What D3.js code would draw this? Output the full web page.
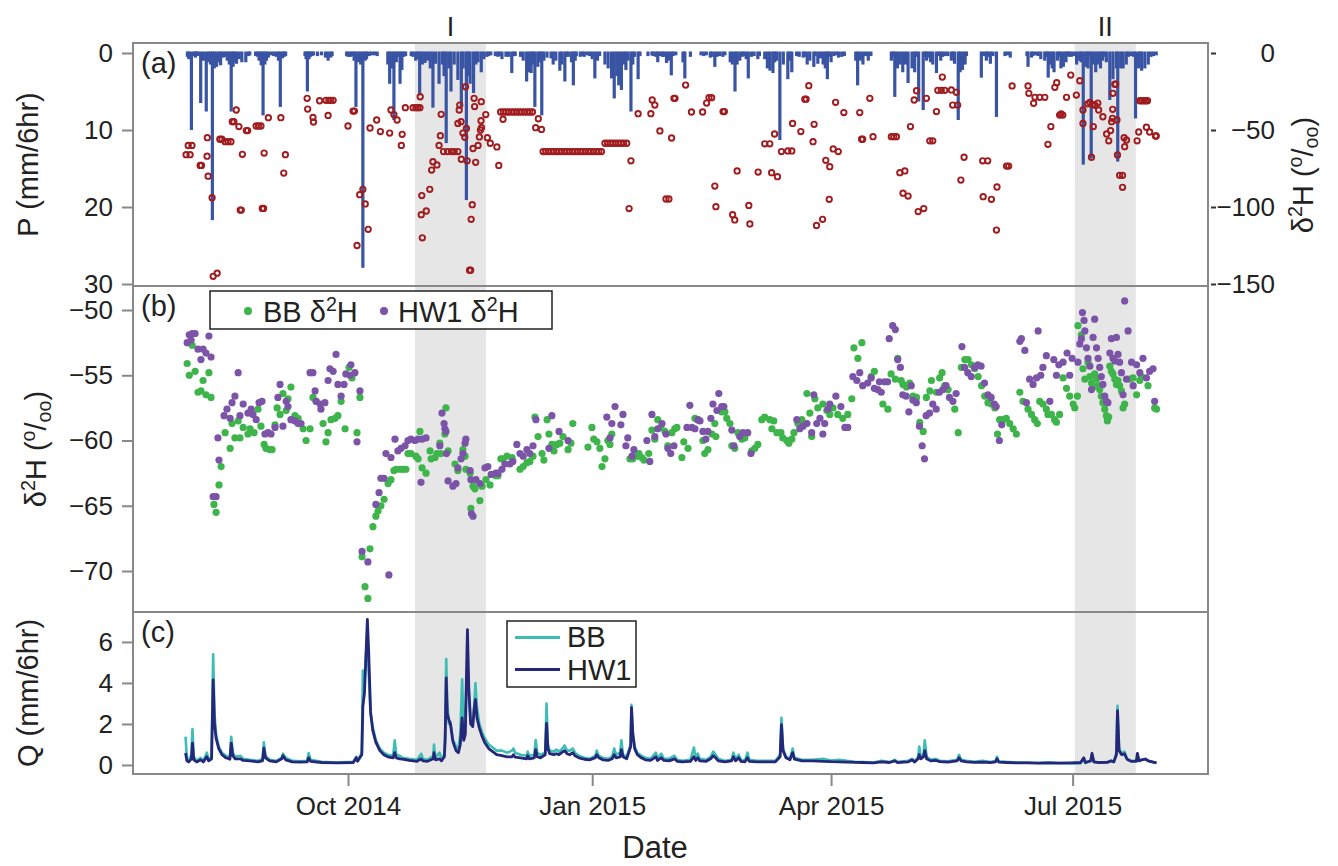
<!DOCTYPE html>
<html><head><meta charset="utf-8">
<script src="https://cdn.jsdelivr.net/npm/d3@7"></script>
<style>
body{margin:0;background:#fff}
svg{display:block}
text{font-family:"Liberation Sans",Arial,sans-serif;fill:#222;white-space:pre}
</style>
</head><body>
<svg id="c" width="1338" height="866"></svg>
<script>
// ---------------- DATA (day = days since 2014-07-01) ----------------
const xTickDates = ["2014-10-01","2015-01-01","2015-04-01","2015-07-01"];
const pTicks = [0,10,20,30];
const pIsoTicks = [0,-50,-100,-150];
const dTicks = [-50,-55,-60,-65,-70];
const qTicks = [0,2,4,6];
const periods = [{label:"I", start:117.2, end:144.0},{label:"II", start:365.8, end:388.8}];

// precipitation, 6 h totals [day, mm]
const precip = [[31.5,0.5],[32,0.8],[33,10],[34.5,0.6],[35.5,0.4],[36.5,6.5],[37.5,1.0],[38.6,7.6],[39.5,1.2],[40.2,1.5],[40.9,21.7],[41.6,2.0],[42.5,1.8],[43.5,1.2],[44,1.6],[45,0.6],[46.5,1.0],[47.3,1.5],[48,7.6],[48.7,1.8],[49.3,1.2],[50,1.4],[51,0.8],[52,1.2],[53.5,1.2],[58.5,1.0],[59.3,1.6],[60,8.1],[60.7,1.5],[61.3,1.0],[62,0.6],[65.8,1.0],[66.5,7],[67.3,0.7],[68,0.5],[76.2,0.8],[76.7,5],[77.3,0.8],[78.5,0.4],[80.5,0.4],[83.5,0.6],[84.5,1.0],[85.5,0.6],[92,0.5],[94.3,1.0],[95,7],[96,1.2],[96.8,1.5],[97.6,27.9],[98.5,1.0],[99,0.8],[102,0.3],[103,0.4],[107,1.5],[107.7,4],[108.5,2.0],[109.3,8.7],[110.2,1.2],[111.6,4],[112.3,2.2],[116.5,0.5],[117.5,1.0],[118.3,0.8],[119,5.5],[120,1.5],[121,1.3],[122,1.0],[123,2.0],[124,7.1],[125,1.4],[126.3,4],[127.5,1.5],[128.2,3],[129,11.7],[130,2],[130.8,5],[132,1.5],[133.4,3.5],[134.7,6.9],[135.4,2],[136.6,19.1],[137.2,3],[138,4],[139.3,5.2],[140.2,1.5],[141,1.2],[142.2,2.5],[143.2,0.8],[144.3,0.5],
[150,0.8],[151.5,0.5],[153.7,2.6],[155,0.4],[157,0.5],[158,1.0],[159.3,3.7],[160.2,2.5],[161,2.6],[161.8,1.5],[162.4,7],[163.5,1.8],[164.3,1.2],[165,8.1],[165.8,1.0],[167,0.6],[168.5,0.7],[169.3,1.5],[170.3,1.0],[171.8,2.3],[172.6,1.5],[173.7,3.7],[175,0.5],[176.2,1.2],[176.9,4.2],[177.6,1.0],[179.5,0.5],[181,0.5],[184,0.8],[185,3.3],[186,1.0],[188.8,1.5],[190,2.0],[191.3,3.3],[192.3,5.9],[193.3,3.0],[194,4.2],[195,4.8],[196,1.5],[196.7,2.2],[197.5,1.0],[198.6,7.6],[199.3,1.5],[201.3,3.4],[206.5,0.3],[208,0.5],[208.7,1.2],[209.5,0.4],[210.5,0.5],[212,1.3],[212.9,1.0],[213.8,2.9],[218.2,1.2],[218.9,3.3],[221,0.5],[225,0.3],[227,0.3],[228.5,0.6],[229.2,0.5],[230.2,1.8],[233.2,0.5],[236,1.2],[236.8,1.5],[237.8,5],[238.6,1.5],[239.6,1.0],[242,0.8],[242.8,3.3],[246.4,0.8],[249,0.8],[250,2.0],[251,2.3],[252.1,2.6],[252.8,1.2],[253.5,1.0],[254.7,11.3],[256,1.5],[257.7,3.4],[258.5,1.0],[259.2,2.5],[262,0.5],[263.5,0.6],[265,1.5],[266,1.0],[267.5,1.8],[269,1.4],[270,0.7],[271,1.5],[271.8,2.0],[272.6,3.4],[274,1.2],[276.8,0.6],[283.3,1.0],[284,4.2],[285,1.0],[286,1.5],[288,1.0],
[296.7,1.0],[298,5.7],[299,2.0],[300,1.5],[301,2.5],[302,1.5],[303,3.9],[304.5,2.0],[305.5,2.5],[307,6.3],[308.7,7.4],[310,1.0],[310.8,0.6],[311.5,1.2],[312.3,1.5],[313.7,2.6],[315.3,1.0],[319.3,1.0],[320.5,1.4],[321.9,8.7],[322.6,2.5],[323.5,2.2],[324.5,1.5],[330.6,3.2],[332.5,1.0],[334,1.4],[336.3,8.3],[339.5,0.4],[341.5,0.6],[348.2,1.8],[349.5,0.6],[353,0.8],[354.5,1.0],[355.8,3.2],[356.5,1.5],[357.3,2.0],[358,2.5],[359.3,1.0],[360.6,2.0],[361.5,1.8],[362.5,1.2],[363.6,0.5],[366.5,1.5],[367.5,1.0],[368.2,1.2],[369,14.5],[370,1.8],[370.8,2.0],[372,13.7],[372.8,1.5],[373.7,2.5],[374.6,1.5],[375.5,2.0],[376.3,1.0],[377.7,1.2],[379,6.1],[380.2,3.4],[381.5,2.0],[382,14.1],[383.1,2.0],[384,2.0],[385.2,1.5],[388.7,8.5],[389.8,2.0],[391,2.3],[392.2,2.0],[393.5,1.5],[396.5,0.3],
[34,0.4],[35,0.3],[45.5,0.5],[54.5,0.4],[55,0.3],[57.2,0.4],[58,0.5],[63,0.3],[64,0.4],[65,0.5],[68.5,0.4],[75.8,0.4],[77.8,0.5],[79,0.3],[82,0.3],[86,0.4],[91.5,0.4],[93,0.5],[93.7,0.4],[100,0.4],[101,0.3],[110.8,0.5],[113,0.5],[113.7,0.4],[115.8,0.4],[145,0.4],[145.8,0.3],[147.5,0.4],[148.5,0.5],[149,0.4],[152.5,0.5],[154.5,0.4],[174.5,0.5],[178,0.4],[180.3,0.4],[182,0.3],[183,0.4],[186.8,0.4],[200,0.5],[202,0.4],[205,0.4],[207,0.4],[211,0.5],[214.5,0.4],[215.5,0.3],[226,0.4],[231,0.5],[232,0.4],[234,0.3],[240.5,0.5],[241,0.4],[244,0.5],[245,0.4],[247,0.4],[261,0.4],[264,0.5],[268,0.4],[273,0.5],[275,0.4],[276,0.3],[278,0.5],[279,0.4],[287,0.4],[289,0.4],[297.5,0.5],[306,0.5],[309.5,0.5],[314.5,0.4],[316,0.5],[317,0.4],[318,0.4],[320,0.5],[325,0.4],[331.5,0.4],[333,0.5],[335,0.4],[340.5,0.3],[347.8,0.4],[350,0.4],[351,0.3],[352,0.4],[355,0.5],[359.8,0.5],[363,0.4],[364.5,0.5],[365.5,0.4],[371,0.5],[377,0.5],[386,0.5],[387,0.4],[388,0.5],[390.5,0.5],[394.5,0.5],[395.5,0.4]];

// precipitation delta2H [day, permil]
const precipIso = [[31,-66],[31.8,-60],[32.5,-66],[33.2,-60],[36.3,-73],[36.8,-73],[38.9,-67],[39,-55],[39.3,-80],[40.8,-94],[41.2,-145],[42.7,-143],[43.7,-56],[44.5,-56],[45.7,-57.6],[46.8,-57.6],[47.9,-57.6],[48.4,-44.6],[49,-44.6],[49.9,-37],[50.9,-47.8],[51.4,-102],[51.8,-102],[52.2,-65.8],[53.7,-50.4],[54.2,-50.4],[57.4,-47.4],[58.3,-47.4],[59.2,-47.4],[59.7,-100.9],[60.2,-100.9],[60.4,-65],[62,-42],[66.7,-42],[67.8,-78],[68.4,-66],[76.6,-29.4],[76.8,-36.4],[78.8,-41.8],[79,-44.8],[81.3,-31],[83.7,-30.7],[84.5,-40.5],[84.8,-30.7],[85.5,-30.7],[86.4,-30.7],[92,-47.4],[93.9,-37.7],[94.4,-37.7],[95.4,-125],[96.4,-92],[97.6,-88.5],[98.5,-98],[99.6,-114.5],[100.3,-48.7],[102.8,-43.5],[104.2,-51],[107.7,-52],[108.2,-37],[109.3,-40],[110.5,-43.5],[112.1,-60],[112.4,-52.8],[113.6,-35.5],[116.5,-35.5],[117.6,-35.5],[118.3,-35.5],[119.1,-35.5],[119.2,-28.4],[119.8,-92.6],[119.6,-105],[120,-120],[121.5,-102.6],[122.8,-88.5],[123.5,-76],[124,-70.6],[125.5,-72.7],[126.3,-60],[126.8,-53.7],[127.1,-39.8],[128,-64],[129.5,-64],[131,-64],[132,-64],[133.4,-64],[133.4,-45.7],[133.9,-37],[134.1,-33.8],[134.6,-44.6],[135.3,-52],[136,-54.7],[136.3,-21.9],[134.7,-69],[136.9,-70],[136.6,-49],[137.8,-141],[138.2,-141],[138.4,-108],[138.8,-98.5],[139.1,-62],[139.5,-29.4],[139.7,-34.8],[140.1,-71],[141,-60],[141.5,-54.5],[141.9,-50],[142.3,-48.5],[142.1,-44],[142.2,-31.6],[143.9,-40],[144.5,-55],[145.6,-58.6],[148.1,-61],[148.8,-73],
[149.5,-38.3],[150.5,-38.3],[151.5,-38.3],[152.5,-38.3],[153.5,-38.3],[154.5,-38.3],[155.5,-38.3],[156.5,-38.3],[157.5,-38.3],[158.5,-38.3],[159.5,-38.3],[160.5,-38.3],[161.5,-38.3],[150.4,-43],[162.7,-48.5],[163.7,-42.7],[164.9,-49.6],
[165.5,-64],[166.5,-64],[167.5,-64],[168.5,-64],[169.5,-64],[170.5,-64],[171.5,-64],[172.5,-64],[173.5,-64],[174.5,-64],[175.5,-64],[176.5,-64],[177.5,-64],[178.5,-64],[179.5,-64],[180.5,-64],[181.5,-64],[182.5,-64],[183.5,-64],[184.5,-64],[185.5,-64],[186.5,-64],[187.5,-64],
[188.8,-58.6],[189.8,-58.6],[190.8,-58.6],[191.8,-58.6],[192.8,-58.6],[193.8,-58.6],[194.8,-58.6],[195.8,-58.6],[197,-58.6],
[197.9,-101],[198.6,-70],[201.3,-39.4],[206.1,-39.4],[206.6,-30.5],[207.6,-33.8],[209.5,-50.6],[211.8,-94.8],[212.9,-94.8],[213.9,-55.2],[214.8,-29.4],[215.2,-29.4],[219.2,-20.8],[221.4,-38.3],[225.6,-38.3],[227.1,-32.5],[228,-29],[229,-29],[230.2,-86.4],[230.6,-99.8],[233.3,-38],[233.8,-38],[236.9,-105],[237.7,-108.4],[238.6,-76.6],[243,-99],[243.4,-111],[246.5,-77.3],[249,-59],[250.9,-59],[251.6,-77.7],[253.8,-80.3],[252.7,-52.6],[255.3,-64],[257.7,-63.6],[259.2,-63.6],[259.5,-45.7],[262.6,-51],[264.1,-30],[264.6,-30],[265.6,-21.2],[267.2,-57.6],[267.6,-46.3],[268.5,-112],[270.8,-108],[272,-69.7],[273.5,-73.8],[273.3,-95],[274.8,-62.3],[276.7,-64],[275.7,-32],[278.8,-38.7],[284.8,-38.7],[285.5,-56],[285.9,-56],[288.6,-29.4],[289.8,-54.3],[296.7,-54.3],[297.6,-54.3],[298.6,-54.3],[299.9,-77.7],[301.8,-76.6],[301.1,-91],[303,-92.9],[303.9,-47.8],[305.3,-30.5],[306.2,-24.5],[306.8,-103],[308.9,-101],[309.9,-29.4],[311.2,-57],[312.3,-57],[313.7,-38],[314.2,-24.2],[315.5,-24.2],[316.8,-24.2],[315.9,-15.6],[319.3,-24],[319.8,-33.8],[321.7,-33.8],[321.2,-25.5],[322.9,-82.5],[324.1,-67.7],[331.3,-93.3],[334.4,-95],[331.1,-70],[333,-70],[336.5,-87],[336.3,-115],[340.1,-73.4],[340.9,-73.4],[342.2,-21.4],[348.2,-21.4],[348.5,-26.2],[350.3,-32.7],[350.8,-28.8],[352.6,-28.8],[354.5,-28.8],[355.7,-59.3],[356.8,-47.8],[358.3,-22.3],[359,-19.3],[360.1,-40.3],[360.7,-39.5],[361.3,-40.3],[362.7,-28.8],[364.3,-14.3],[366.4,-27.3],[367.7,-18],[368.9,-37],[368.9,-45.7],[370.7,-33],[371.5,-32],[372.6,-33.5],[373.5,-34],[374.5,-32.5],[372.1,-67.7],[372.8,-47.8],[374.8,-37],[376.4,-41.4],[377.8,-52.6],[378.6,-57],[379.3,-50.4],[379.7,-44.6],[380,-42.4],[380.1,-36.6],[380.2,-26.2],[380.9,-20.3],[381.2,-20.3],[381.7,-43.5],[381.9,-66.2],[382.7,-79.4],[383.8,-79.4],[383.8,-87.2],[384.4,-55],[385.3,-56.5],[384.6,-60.8],[389.3,-57],[389.9,-51.3],[390.3,-31],[391,-31],[391.8,-31],[392.5,-31],[393.2,-31],[392.8,-48.2],[394,-51.3],[396.2,-53.9],[396.5,-53.9]];

// stream water delta2H, BB [day, permil]
const bbIso = [[31.4,-54.1],[32.2,-55],[34.4,-54.7],[33.3,-52.7],[35.5,-56.3],[36.6,-56.2],[38.5,-56.5],[40.4,-56.7],[37.4,-55.4],[39.6,-54.8],[41.5,-64.9],[42.3,-65.5],[43.4,-63.4],[44.2,-62],[45.7,-59.4],[47.6,-60.6],[48.3,-58.7],[49.4,-59.8],[51.3,-59.8],[50.6,-58.5],[52.5,-59],[54.3,-59.5],[55.1,-59.1],[56.6,-59.4],[58.1,-57.6],[59.2,-58.9],[60.4,-60.3],[61.1,-60.6],[62.6,-60.7],[63.4,-60.7],[64.5,-58.8],[65.3,-57.5],[66.4,-58],[67.5,-56.4],[68.7,-57.7],[69.4,-56.8],[70.5,-55.9],[72,-58.1],[73.2,-58.3],[75.1,-59.1],[76.2,-60],[77.7,-59.1],[78.8,-56.7],[80,-57],[82.6,-58.7],[83.7,-60.1],[84.5,-59.4],[85.6,-58.4],[87.1,-58.3],[88.2,-58.1],[89.4,-57],[90.9,-59.1],[92.4,-54.4],[93.5,-55.2],[95.4,-59.4],[96.5,-56.7],[97.3,-68.9],[98.4,-71.2],[99.5,-72.1],[100.3,-68.3],[101.4,-66.6],[102.5,-65.8],[103.3,-65.4],[104.4,-65],[105.6,-64.5],[107.1,-63.3],[108.2,-63],[109.3,-62.3],[110.1,-62.2],[111.6,-62.2],[112.7,-62.2],[113.8,-62.2],[114.6,-61],[115.7,-61],[117.6,-61.2],[118.4,-61.4],[119.1,-59.3],[119.9,-62.1],[121.4,-62.5],[122.9,-60.8],[123.3,-61.4],[124.8,-61.3],[125.5,-61],[126.6,-60.2],[127,-61],[128.5,-59.5],[128.9,-57.5],[129.7,-60.8],[132.3,-61.8],[133.4,-62.3],[135.3,-60.7],[136.1,-61.2],[136.4,-62.2],[138,-62.5],[139.1,-63.5],[139.8,-63.7],[141.7,-64.6],[142.5,-63.5],[144,-63],[145.5,-63.4],[147.7,-62.7],[149.6,-61.4],[138.3,-65.2],
[148.5,-62.7],[150.4,-61.4],[151.9,-61.2],[153.8,-61.3],[156.8,-62.2],[158,-62],[159.4,-61.7],[160.5,-61.6],[161.7,-61.2],[162.4,-58.2],[163.6,-59.7],[165.1,-61],[165.8,-61.5],[167,-58.4],[167.7,-59.5],[168.8,-60.3],[169.6,-60.8],[170.7,-60.3],[171.8,-60.2],[173,-59.7],[174.9,-60.7],[176,-60.2],[176.7,-58.7],[182.4,-60.5],[183.9,-59],[184.6,-59.9],[185.8,-60.1],[186.9,-60.6],[187.7,-62],[188.8,-61.4],[189.9,-60],[190.7,-60.3],[191.4,-59.5],[198.2,-61.4],[199.3,-61.4],[200.8,-61.2],[201.6,-61],[202.7,-61.3],[203.5,-61.5],[205.3,-61],[206.5,-59.2],[207.6,-59.9],[208.7,-58.4],[209.9,-59],[211.4,-59.3],[212.5,-60.4],[214,-59.4],[215.1,-59.1],[215.9,-59],[217.8,-61.3],[218.5,-60.1],[220.1,-60.6],[222.7,-58.3],[223.8,-58.4],[225.7,-60],[226.4,-61],[227.6,-60.7],[229.1,-59.5],[230.2,-58.7],[230.6,-59.7],[232.8,-57.8],[234,-57.8],[234.7,-58.3],[235.9,-58.7],[236.6,-60.4],[237.7,-60.6],[238.9,-59.4],[240.4,-59.9],[241.5,-59.8],[244.1,-60.8],[245.3,-60.6],[246.4,-60.3],[247.9,-58.4],[249,-58.2],[250.9,-58.4],[252.4,-58.5],[251.7,-59.1],[253.6,-59.4],[255.1,-59.4],[255.8,-59.8],[257.3,-60],[258.1,-60.2],[259.2,-59.9],[260,-59.4],[261.5,-58.7],[263,-58.4],[264.9,-56.4],[266,-57.9],[266.7,-59.7],[267.9,-56.8],[269,-57.5],[270.9,-57.2],[272.4,-57.7],[273.5,-58],[274.7,-57.5],[276.5,-58],[278.4,-58.3],[280.3,-58],[281.8,-56.8],[282.6,-52.9],[284.1,-53.7],[285.6,-52.5],
[289.1,-55.1],[290.3,-54.7],[293.5,-57.2],[295.4,-57.6],[296.6,-54.9],[298.2,-55.3],[299.1,-53.7],[300.4,-55.4],[301.1,-55.7],[302.4,-55.9],[303.6,-55.6],[304.9,-56.6],[306.2,-56.7],[307.4,-58.6],[308.7,-59.3],[309.9,-56.7],[311.2,-56.2],[311.8,-55.4],[313.7,-56.3],[314.9,-55.2],[315.8,-54.8],[316.8,-55.8],[318.1,-56.1],[320.6,-57.6],[321.9,-59.4],[323.1,-54.4],[324.4,-53.8],[325.6,-53.8],[326.9,-54.2],[328.1,-54.5],[329.4,-55.1],[330.7,-55.8],[331.9,-56.6],[333.1,-57.1],[334.4,-57.2],[335.7,-57.5],[336.7,-59.5],[337.5,-58.4],[338.8,-58.4],[340,-58.3],[341.3,-58.7],[342.6,-59.1],[343.8,-59.5],[345.1,-56.3],[346.3,-57],[348.2,-57.6],[349.5,-58],[350.7,-58.4],[351.7,-58.7],[352.6,-57],[353.8,-57.2],[355.1,-57.6],[355.7,-58],[357,-58],[358.2,-58.4],[358.9,-58.6],[360.1,-58],[361.4,-55.2],[362.7,-56],[363.9,-56.6],[365.2,-57.2],[365.8,-57.5],[366.8,-56.6],[367,-51.2],[368.3,-51.9],[368.9,-54.5],[369.6,-55.3],[370.8,-54],[371.5,-55.1],[372.1,-55.6],[372.7,-55.9],[373.3,-54.9],[374,-55.3],[374.6,-55.8],[375.2,-56.1],[375.8,-56.6],[376.4,-57.1],[377.1,-57.6],[377.7,-58.1],[378.1,-58.5],[378.6,-58.2],[379,-54.3],[379.6,-54.7],[380.2,-54.9],[380.9,-55.3],[381.5,-55.7],[382.1,-55.4],[382.7,-55.8],[383.4,-56.2],[384,-57.5],[384.6,-57.2],[386.5,-55.3],[387.8,-55.2],[389.1,-56.5],[390.3,-55.4],[390.9,-55.1],[393.4,-55.8],[395.9,-57.5],[396.6,-57.6]];

// stream water delta2H, HW1 [day, permil]
const hwIso = [[31.4,-52.5],[32.2,-51.9],[33.3,-51.8],[34.4,-51.8],[32.9,-52.3],[35.5,-53],[37.4,-53],[36.6,-53.8],[38.5,-53.3],[39.6,-52],[40.4,-53.6],[43,-59.8],[43.4,-61.5],[41.2,-64.3],[42.3,-64.3],[45.3,-58.1],[46.4,-57.6],[47.6,-58.3],[48.3,-57.1],[49.4,-56.6],[50.6,-54.8],[51.3,-58.1],[52.5,-57.2],[54.3,-57.9],[55.5,-57.6],[56.2,-58],[57.4,-58.4],[58.5,-57.1],[59.6,-57],[60.7,-59.5],[61.9,-59.4],[63,-59.5],[64.5,-59],[65.6,-56.7],[66.4,-55.7],[67.5,-58.9],[68.7,-57],[69.4,-57.4],[70.5,-58.4],[72,-58.5],[73.2,-58.7],[74.3,-58.7],[77.7,-54.8],[78.8,-54.8],[79.6,-56.2],[80,-57],[81.5,-57.2],[81.8,-57.6],[83.3,-57.1],[84.5,-55.4],[85.2,-54.5],[86.4,-54.7],[87.5,-53.4],[88.2,-55.7],[89.4,-56.6],[90.5,-55.7],[91.2,-54.9],[92.8,-55],[93.1,-54.2],[94.6,-54.8],[95.4,-60.1],[96.5,-56.2],[97.3,-68.5],[99.5,-69.3],[102.5,-64.9],[103.7,-64],[104.4,-62.9],[105.6,-62.9],[107.4,-70.3],[106.3,-61],[108.2,-61.3],[109.7,-59.9],[110.8,-60.8],[112,-60.6],[113.5,-60.4],[114.6,-60],[115.7,-59.9],[117.2,-60],[118.4,-59.9],[119.9,-59.9],[121.4,-59.8],[119.5,-63.2],[126.6,-60.4],[127.4,-57.9],[128.2,-58.7],[128.5,-59.1],[128.9,-59.3],[129.1,-61],[129.7,-63.1],[131.5,-63.5],[132.7,-63.3],[133.4,-62.1],[134.6,-61.4],[135.3,-61],[136.1,-60.2],[136.4,-59.9],[138,-62.3],[138.3,-63],[138.5,-65.6],[139.1,-65.8],[140.2,-63],[141.7,-63.3],[143.6,-62.1],[144.7,-62],[145.9,-62.6],[147.7,-62.5],
[148.5,-62.5],[150,-62.2],[151.1,-61.8],[153,-61.8],[154.1,-61.6],[155.6,-60.3],[156.8,-61],[158,-61.2],[159.4,-60.7],[160.5,-61],[161.7,-60.4],[162.8,-58.4],[167.7,-60.6],[168.8,-58.1],[171.5,-59.3],[174.9,-60],[189.5,-58.2],[190.7,-59.8],[191.4,-58.7],[192.6,-57.4],[194.8,-58.8],[195.6,-58],[196.7,-60.4],[197.4,-59.8],[199,-61.2],[199.7,-60.7],[204.6,-60],[205.7,-61.6],[206.5,-58],[207.6,-59.7],[208.7,-59.1],[210.3,-58.7],[211.8,-59.5],[212.5,-60.6],[213.6,-61],[214.8,-60.4],[219.7,-59],[220.8,-57.3],[221.6,-59],[222.7,-59.1],[223.8,-58.4],[224.6,-58.5],[225.7,-59.3],[226.8,-59.9],[227.6,-59.3],[228.7,-58.3],[229.5,-57.2],[231,-57.7],[231.7,-56.4],[232.8,-57.4],[233.6,-57.4],[236.6,-59.2],[237.4,-60.4],[239.6,-59.7],[240.8,-59.4],[242.6,-59.4],[243.8,-61],[261.1,-58.4],[262.2,-59.1],[263.4,-58.9],[264.9,-58.7],[266.7,-59.4],[268.6,-58.7],[269.8,-58.3],[270.9,-59.5],[271.6,-58.7],[272.8,-57.6],[273.5,-57.2],[275.8,-56.6],[277.7,-57.4],[279.2,-59],[280.3,-59],[267.5,-56.5],[282.2,-55.1],[283.7,-55.4],[284.8,-54.8],[285.9,-55.8],
[287.8,-55.6],[289.1,-55.2],[290.3,-56],[291.6,-56.1],[292.9,-56.3],[292.2,-55.5],[294.1,-55.5],[295.3,-55.5],[295.9,-52.2],[297.2,-51.2],[298.2,-51.5],[299.1,-53.8],[300.1,-54.4],[301,-56.5],[302.3,-56.6],[303.3,-57.8],[304.2,-55.8],[304.8,-56.9],[306.1,-57.1],[307.3,-58.9],[308.3,-60.4],[309.2,-61.4],[309.8,-58.1],[311.1,-57.9],[312.3,-57.2],[313.6,-57.6],[314.8,-56.3],[316.1,-56.1],[317.3,-55.8],[318.6,-56.7],[319.9,-57],[321.1,-56.4],[323.3,-52.8],[324.3,-54.4],[325.5,-54.8],[326.8,-55.1],[328,-54.4],[329.3,-54.2],[330.5,-54.3],[331.8,-55.6],[333.1,-56.5],[334.3,-56.7],[335.5,-57.2],[336.2,-57.4],[337.4,-60],[338.3,-58.8],[345.1,-52.4],[345.7,-52.2],[347,-53.1],[347.6,-57.1],[348.8,-55.3],[350.1,-55.7],[351.4,-55.2],[352,-51.6],[353,-55],[353.8,-54.4],[355.1,-53.5],[356.4,-57],[357.9,-53.8],[358.9,-55],[359.8,-54.2],[361.4,-54],[362.9,-53.3],[363.9,-55],[364.8,-53.7],
[367,-54],[367.7,-52.6],[368.3,-52.2],[368.7,-50.2],[369.3,-50.8],[369.6,-51.6],[370.2,-52.9],[370.8,-53.7],[371.5,-54.3],[372.1,-56.1],[372.7,-52.1],[373.3,-50.7],[374,-52.9],[374.6,-53.7],[375.2,-54.4],[375.8,-55.1],[376.4,-55.7],[377.1,-56.6],[377.7,-57],[378.3,-57.1],[379,-53.3],[379.6,-52.2],[380.2,-53.7],[380.9,-53.9],[381.5,-52.1],[382.1,-53.4],[382.7,-54],[383.4,-54.8],[384,-56.5],[384.6,-49.3],[385.3,-55.3],[385.9,-51.6],[387.2,-54],[387.8,-55.8],[389.1,-54.2],[390.3,-54.8],[391.5,-53.7],[392.8,-55.2],[394,-54.7],[395.3,-54.5],[395.9,-57]];

// discharge, 6 h [day, BB mm, HW1 mm]
const discharge = [[30.8,1.38,0.58],[31.3,0.35,0.2],[32,0.25,0.15],[33,0.5,0.3],[33.4,1.75,1.07],[33.9,0.4,0.25],[35,0.2,0.15],[36.5,0.35,0.25],[37.5,0.2,0.15],[38.8,0.6,0.4],[39.5,0.25,0.2],[40.6,0.4,0.3],[41.2,5.4,4.15],[41.7,2.5,2.0],[42.3,1.5,1.3],[43.3,0.9,0.8],[44.5,0.6,0.5],[46,0.45,0.35],[47.5,0.35,0.28],[48,1.38,1.07],[48.6,0.6,0.45],[49.5,0.4,0.3],[51.5,0.45,0.3],[52.5,0.3,0.22],[55,0.25,0.2],[58,0.2,0.15],[59.8,0.3,0.2],[60.3,1.1,0.82],[60.9,0.45,0.35],[62.5,0.25,0.2],[65,0.2,0.15],[67,0.35,0.3],[67.5,0.55,0.45],[68.5,0.35,0.25],[71,0.2,0.15],[74,0.18,0.14],[76.6,0.2,0.15],[77.2,0.58,0.35],[77.9,0.25,0.18],[82,0.15,0.12],[88,0.12,0.1],[94,0.15,0.12],[95.1,0.4,0.35],[95.6,0.2,0.18],[97.2,0.6,0.5],[97.6,4.6,2.85],[98.2,4.0,3.5],[99.3,6.6,7.1],[99.8,4.5,5.5],[100.5,2.5,2.6],[101.3,1.87,1.7],[102.5,1.2,1.1],[104,0.8,0.7],[105.5,0.6,0.5],[107,0.5,0.4],[109,0.45,0.35],[109.6,1.2,0.6],[110.2,0.5,0.35],[111.5,0.45,0.3],[112.5,0.35,0.28],[115,0.3,0.22],[118,0.25,0.18],[119.6,0.55,0.3],[120.2,0.3,0.2],[122,0.25,0.18],[124.1,0.45,0.3],[124.4,1.0,0.6],[124.9,0.35,0.25],[126.5,0.6,0.3],[127.2,0.3,0.2],[128.3,0.5,0.4],[128.6,1.5,1.2],[129,5.17,4.25],[129.4,3.0,2.5],[130,2.0,2.2],[130.6,2.1,2.0],[131.5,1.25,1.15],[132.7,0.9,0.7],[133.6,0.8,0.6],[134.3,1.5,1.0],[135,4.18,2.3],[135.6,1.6,1.2],[136.2,2.0,1.5],[136.6,3.8,4.2],[137,5.0,6.6],[137.5,3.5,3.8],[138.2,2.2,2.0],[139,2.1,1.87],[139.6,3.0,2.8],[140,4.0,3.2],[140.6,2.8,2.3],[141.5,2.0,1.8],[142.5,1.6,1.4],[143.5,1.3,1.1],[145,1.0,0.8],[146.5,0.85,0.65],[148,0.7,0.5],[150,0.7,0.45],[152,0.6,0.4],[153.8,0.7,0.4],[154.3,0.8,0.5],[155,0.6,0.38],[157,0.5,0.35],[159.3,0.45,0.3],[159.7,0.65,0.45],[160.3,0.45,0.3],[162.2,0.5,0.35],[162.7,1.22,0.75],[163.3,0.6,0.4],[164.5,0.5,0.35],[166.3,0.6,0.5],[166.8,3.0,2.03],[167.3,1.0,0.8],[168,0.7,0.55],[169.5,0.65,0.5],[170.5,0.75,0.55],[171.5,0.65,0.5],[172.5,0.75,0.6],[173.6,0.95,0.7],[174.5,0.7,0.55],[175.5,0.7,0.5],[176.7,0.8,0.6],[177.5,0.6,0.45],[179,0.45,0.35],[181,0.35,0.28],[183,0.3,0.25],[185.2,0.45,0.35],[185.7,0.7,0.5],[186.5,0.45,0.35],[188,0.35,0.25],[190,0.3,0.22],[191.5,0.4,0.3],[192.3,0.8,0.5],[193,0.5,0.35],[194.5,0.6,0.4],[195,1.2,0.75],[195.6,0.5,0.4],[197,0.4,0.3],[198.5,1.0,0.9],[198.8,2.93,2.8],[199.3,1.6,1.5],[200,0.9,0.8],[201,0.6,0.5],[202.5,0.45,0.35],[204,0.35,0.25],[206,0.3,0.22],[208,0.6,0.4],[208.6,0.3,0.22],[210,0.55,0.35],[211,0.3,0.22],[213,0.3,0.2],[215,0.45,0.3],[216,0.25,0.18],[218,0.2,0.15],[221,0.25,0.18],[222.3,0.85,0.4],[223,0.35,0.22],[223.8,0.55,0.35],[224.5,0.3,0.2],[227,0.25,0.18],[228.6,0.4,0.3],[229.6,0.65,0.45],[230.5,0.5,0.35],[231.5,0.3,0.2],[234,0.2,0.15],[236.5,0.25,0.2],[237.2,0.6,0.4],[238,0.3,0.2],[239.2,0.5,0.35],[240,0.25,0.18],[241.5,0.2,0.15],[242.5,0.6,0.35],[243.2,0.25,0.18],[246,0.2,0.15],[250,0.2,0.15],[253,0.2,0.15],[254.8,0.5,0.4],[255.3,2.3,1.97],[255.9,0.8,0.7],[257,0.4,0.35],[258.5,0.3,0.25],[259.5,0.8,0.6],[260.2,0.35,0.28],[263,0.25,0.2],[267,0.25,0.2],[271,0.3,0.18],[274,0.22,0.16],[277,0.25,0.15],[280,0.2,0.14],[283,0.16,0.13],[286,0.14,0.12],[290,0.12,0.1],[293,0.2,0.15],[296,0.14,0.12],[298,0.25,0.2],[299,0.14,0.12],[303,0.2,0.15],[304.5,0.3,0.25],[305.5,0.18,0.14],[306.8,0.4,0.3],[307.2,0.9,0.5],[307.8,0.4,0.3],[308.8,0.5,0.4],[309.3,1.2,0.7],[310,0.4,0.3],[311.5,0.25,0.2],[313.5,0.3,0.22],[315,0.2,0.16],[318,0.18,0.14],[321.5,0.25,0.2],[322.2,0.5,0.35],[323,0.25,0.2],[325,0.2,0.15],[328,0.15,0.13],[331,0.2,0.14],[334,0.14,0.12],[336,0.2,0.15],[336.5,0.4,0.3],[337.2,0.18,0.14],[340,0.15,0.12],[344,0.12,0.1],[348,0.12,0.1],[352,0.1,0.09],[356,0.12,0.1],[360,0.1,0.09],[364,0.08,0.1],[368,0.08,0.12],[369.2,0.3,0.35],[369.8,0.1,0.12],[371.8,0.2,0.2],[372.3,0.5,0.57],[373,0.15,0.15],[375,0.12,0.12],[378,0.12,0.13],[379.5,0.2,0.2],[380.5,0.15,0.15],[381.5,0.6,0.5],[381.9,2.88,2.65],[382.5,0.8,0.7],[383.5,0.55,0.5],[384.5,0.65,0.55],[385.5,0.3,0.28],[387,0.2,0.18],[389,0.2,0.18],[389.4,0.45,0.57],[390,0.2,0.2],[391,0.25,0.25],[392.5,0.3,0.28],[393.5,0.2,0.2],[395,0.15,0.15],[396.6,0.1,0.1]];

// ---------------- CHART ----------------
const DAY0 = Date.UTC(2014,6,1);
const dt = d => new Date(DAY0 + d*864e5);
const W=1338, H=866, L=133, R=1208;
const PA=[43,286], PB=[286,612], PC=[612,774];
const C = {bar:"#3a54a4", pt:"#a01c1f", bb:"#3db54a", hw:"#7b54a8", qbb:"#3dbdb3", qhw:"#25287a", frame:"#888", shade:"#e6e6e6"};

const svg = d3.select("#c");
svg.append("rect").attr("width",W).attr("height",H).attr("fill","#fff");

const x = d3.scaleUtc().domain([new Date(Date.UTC(2014,6,12)), new Date(Date.UTC(2015,7,21))]).range([L,R]);
const yP = d3.scaleLinear().domain([-1.3,30.26]).range(PA);
const yPi = d3.scaleLinear().domain([6.5,-151.3]).range(PA);
const yB = d3.scaleLinear().domain([-48.16,-73.14]).range(PB);
const yQ = d3.scaleLinear().domain([7.46,-0.44]).range(PC);

const defs = svg.append("defs");
[["ca",PA],["cb",PB],["cc",PC]].forEach(([id,p])=>{
  defs.append("clipPath").attr("id",id).append("rect").attr("x",L).attr("y",p[0]).attr("width",R-L).attr("height",p[1]-p[0]);
});

// shaded periods
svg.append("g").selectAll("rect").data(periods).join("rect")
  .attr("x",d=>x(dt(d.start))).attr("width",d=>x(dt(d.end))-x(dt(d.start)))
  .attr("y",PA[0]).attr("height",PC[1]-PA[0]+1).attr("fill",C.shade);
svg.append("g").selectAll("text").data(periods).join("text")
  .attr("x",d=>(x(dt(d.start))+x(dt(d.end)))/2).attr("y",36)
  .attr("text-anchor","middle").attr("font-size",27).text(d=>d.label);

// panel a
const ga = svg.append("g").attr("clip-path","url(#ca)");
ga.selectAll("rect").data(precip).join("rect")
  .attr("x",d=>x(dt(d[0]))-1.6).attr("width",3.2)
  .attr("y",yP(0)-1.5).attr("height",d=>yP(d[1])-yP(0)+1.5)
  .attr("fill",C.bar);
ga.append("g").selectAll("circle").data(precipIso).join("circle")
  .attr("cx",d=>x(dt(d[0]))).attr("cy",d=>yPi(d[1])).attr("r",2.7)
  .attr("fill","none").attr("stroke",C.pt).attr("stroke-width",1.9);

// panel b
const gb = svg.append("g").attr("clip-path","url(#cb)");
gb.append("g").selectAll("circle").data(bbIso).join("circle")
  .attr("cx",d=>x(dt(d[0]))).attr("cy",d=>yB(d[1])).attr("r",3.6).attr("fill",C.bb);
gb.append("g").selectAll("circle").data(hwIso).join("circle")
  .attr("cx",d=>x(dt(d[0]))).attr("cy",d=>yB(d[1])).attr("r",3.6).attr("fill",C.hw);

// panel c
const gc = svg.append("g").attr("clip-path","url(#cc)");
const lineBB = d3.line().x(d=>x(dt(d[0]))).y(d=>yQ(d[1]));
const lineHW = d3.line().x(d=>x(dt(d[0]))).y(d=>yQ(d[2]));
gc.append("path").attr("d",lineBB(discharge)).attr("fill","none").attr("stroke",C.qbb).attr("stroke-width",2.6).attr("stroke-linejoin","round");
gc.append("path").attr("d",lineHW(discharge)).attr("fill","none").attr("stroke",C.qhw).attr("stroke-width",2.8).attr("stroke-linejoin","round");

// frames
const fr = svg.append("g").attr("fill","none").attr("stroke",C.frame).attr("stroke-width",2);
fr.append("rect").attr("x",L).attr("y",PA[0]).attr("width",R-L).attr("height",PC[1]-PA[0]);
fr.append("line").attr("x1",L).attr("x2",R).attr("y1",PB[0]).attr("y2",PB[0]);
fr.append("line").attr("x1",L).attr("x2",R).attr("y1",PC[0]).attr("y2",PC[0]);

// axes
function styleAxis(g, col){
  g.select(".domain").remove();
  g.selectAll(".tick line").attr("stroke",col||C.frame).attr("stroke-width",2);
  g.selectAll(".tick text").attr("font-size",26).attr("fill","#222").attr("font-family","'Liberation Sans',Arial,sans-serif");
}
styleAxis(svg.append("g").attr("transform",`translate(${L},0)`).call(d3.axisLeft(yP).tickValues(pTicks).tickSize(11).tickPadding(9)));
styleAxis(svg.append("g").attr("transform",`translate(${L},0)`).call(d3.axisLeft(yB).tickValues(dTicks).tickSize(11).tickPadding(9)));
styleAxis(svg.append("g").attr("transform",`translate(${L},0)`).call(d3.axisLeft(yQ).tickValues(qTicks).tickSize(11).tickPadding(9)));
const gr = svg.append("g").attr("transform",`translate(${R+3},0)`).call(d3.axisRight(yPi).tickValues(pIsoTicks).tickSize(5).tickPadding(6));
styleAxis(gr,"#333");
gr.selectAll(".tick text").attr("text-anchor","end").attr("x",64);
const gx = svg.append("g").attr("transform",`translate(0,${PC[1]})`)
  .call(d3.axisBottom(x).tickValues(xTickDates.map(s=>new Date(s+"T00:00:00Z"))).tickFormat(d3.utcFormat("%b %Y")).tickSize(12).tickPadding(11));
styleAxis(gx);

// rich text helper
function rich(sel, parts, fs){
  let cur=0;
  parts.forEach(p=>{
    const target = p.s==="sup" ? -0.38*fs : p.s==="sub" ? 0.18*fs : 0;
    sel.append("tspan").attr("dy",target-cur).attr("font-size",p.s?fs*0.68:fs).text(p.t);
    cur=target;
  });
}
const isoParts = [{t:"δ"},{t:"2",s:"sup"},{t:"H ("},{t:"o",s:"sup"},{t:"/"},{t:"oo",s:"sub"},{t:")"}];

// axis titles
svg.append("text").attr("transform",`translate(38,${(PA[0]+PA[1])/2}) rotate(-90)`).attr("text-anchor","middle").attr("font-size",29).text("P (mm/6hr)");
rich(svg.append("text").attr("transform",`translate(46,${(PB[0]+PB[1])/2}) rotate(-90)`).attr("text-anchor","middle").attr("font-size",29), isoParts, 29);
svg.append("text").attr("transform",`translate(38,${(PC[0]+PC[1])/2}) rotate(-90)`).attr("text-anchor","middle").attr("font-size",29).text("Q (mm/6hr)");
rich(svg.append("text").attr("transform",`translate(1313,175) rotate(-90)`).attr("text-anchor","middle").attr("font-size",29), isoParts, 29);
svg.append("text").attr("x",655).attr("y",858).attr("text-anchor","middle").attr("font-size",31).text("Date");

// panel labels
[["(a)",73],["(b)",316],["(c)",642]].forEach(([t,y])=>{
  svg.append("text").attr("x",141).attr("y",y).attr("font-size",29).attr("fill","#333").text(t);
});

// legend b
const lb = svg.append("g");
lb.append("rect").attr("x",210).attr("y",291).attr("width",342).attr("height",38).attr("fill","#fff").attr("stroke","#222").attr("stroke-width",1.5);
lb.append("circle").attr("cx",248).attr("cy",311).attr("r",4).attr("fill",C.bb);
rich(lb.append("text").attr("x",263).attr("y",322).attr("font-size",29), [{t:"BB δ"},{t:"2",s:"sup"},{t:"H"}], 29);
lb.append("circle").attr("cx",384).attr("cy",311).attr("r",4).attr("fill",C.hw);
rich(lb.append("text").attr("x",398).attr("y",322).attr("font-size",29), [{t:"HW1 δ"},{t:"2",s:"sup"},{t:"H"}], 29);

// legend c
const lc = svg.append("g");
lc.append("rect").attr("x",507).attr("y",621).attr("width",129).attr("height",66).attr("fill","#fff").attr("stroke","#222").attr("stroke-width",1.5);
lc.append("line").attr("x1",515).attr("x2",560).attr("y1",637.5).attr("y2",637.5).attr("stroke",C.qbb).attr("stroke-width",3);
lc.append("text").attr("x",567).attr("y",647).attr("font-size",29).text("BB");
lc.append("line").attr("x1",515).attr("x2",560).attr("y1",669.5).attr("y2",669.5).attr("stroke",C.qhw).attr("stroke-width",3);
lc.append("text").attr("x",567).attr("y",680).attr("font-size",29).text("HW1");
</script>
</body></html>
